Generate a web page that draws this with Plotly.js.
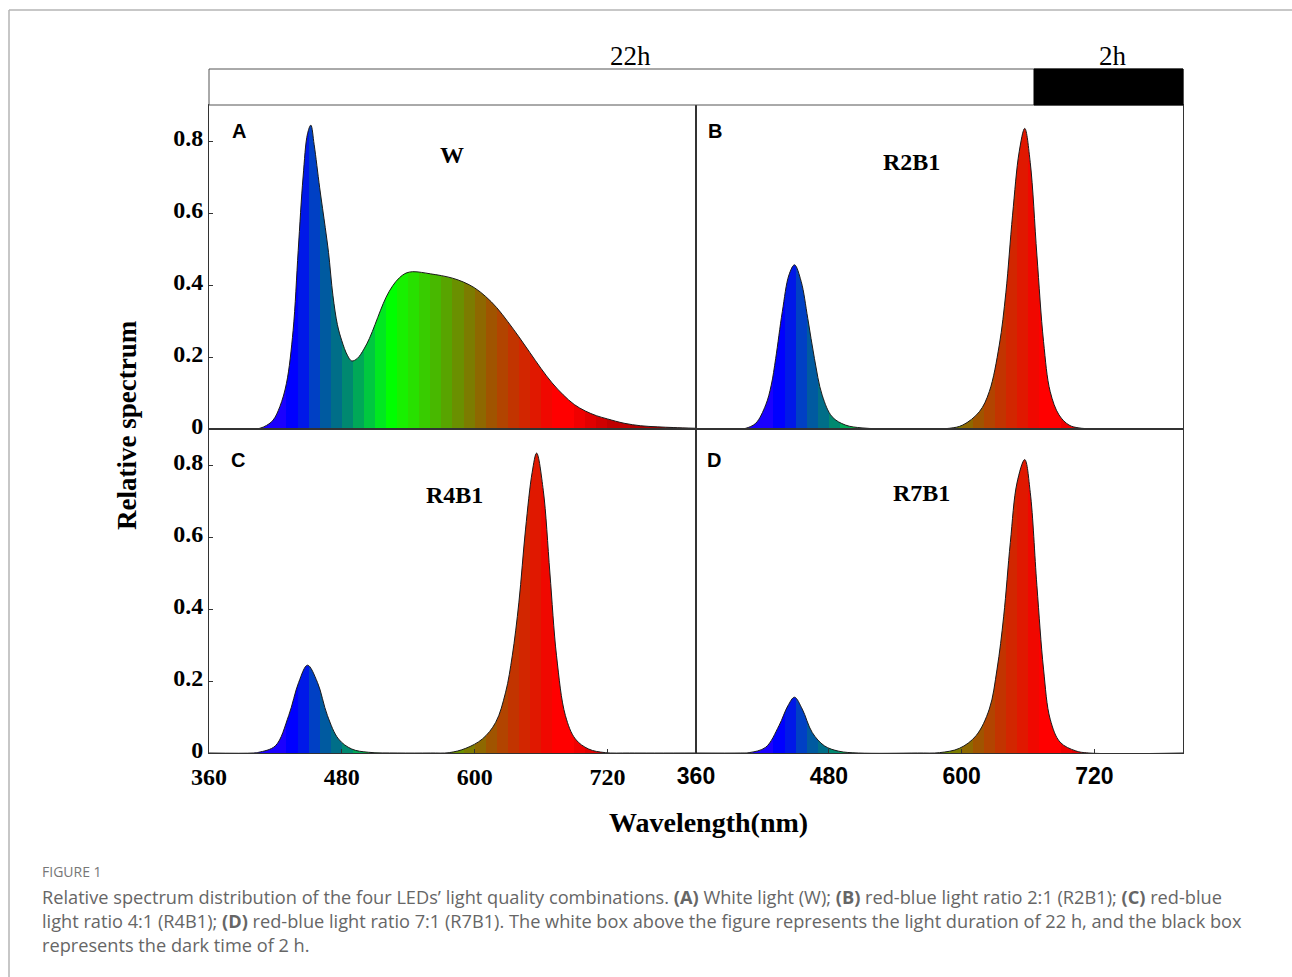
<!DOCTYPE html>
<html>
<head>
<meta charset="utf-8">
<script src="https://cdn.plot.ly/plotly-3.0.1.min.js"></script>
<style>html,body{margin:0;padding:0;background:#fff;}#chart{width:1292px;height:977px;}</style>
</head>
<body>
<div id="chart"></div>
<script>
// ---- Data ----
// Panel A: white light (W)
const wlA  = [360, 400, 406, 412, 418, 424, 430, 436, 440.6, 445, 449, 452, 455, 460, 465, 468, 472, 476, 480, 485, 489, 494, 500, 505, 510, 515, 520, 526, 532, 538, 544, 552, 560, 570, 580, 590, 600, 610, 620, 630, 640, 650, 660, 670, 680, 690, 700, 710, 720, 735, 750, 765, 780, 800];
const valA = [0, 0, 0.002, 0.01, 0.025, 0.062, 0.127, 0.274, 0.496, 0.70, 0.82, 0.844, 0.79, 0.67, 0.56, 0.49, 0.37, 0.29, 0.245, 0.205, 0.189, 0.196, 0.222, 0.252, 0.29, 0.33, 0.366, 0.398, 0.42, 0.433, 0.437, 0.435, 0.431, 0.426, 0.419, 0.408, 0.392, 0.368, 0.337, 0.298, 0.256, 0.212, 0.168, 0.128, 0.095, 0.068, 0.05, 0.037, 0.028, 0.016, 0.009, 0.006, 0.004, 0.002];
// Panel B: R2B1
const wlB  = [360, 400, 405, 414, 423, 428, 432, 438, 444, 449, 455, 461, 467, 474, 483, 495, 510, 540, 560, 589, 601, 616, 625, 634, 640, 646, 652, 657, 662, 668, 674, 680, 688, 697, 706, 730, 800];
const valB = [0, 0, 0.002, 0.016, 0.067, 0.122, 0.196, 0.326, 0.428, 0.456, 0.41, 0.307, 0.196, 0.094, 0.034, 0.011, 0.003, 0, 0, 0.002, 0.011, 0.048, 0.104, 0.233, 0.38, 0.594, 0.77, 0.835, 0.74, 0.483, 0.243, 0.104, 0.039, 0.011, 0.003, 0, 0];
// Panel C: R4B1
const wlC  = [360, 400, 405, 420, 432, 441, 449, 458, 467, 477, 489, 504, 530, 560, 577, 592, 607, 619, 628, 634, 640, 646, 652, 656, 662, 668, 674, 682, 691, 703, 718, 740, 800];
const valC = [0, 0, 0.002, 0.02, 0.104, 0.196, 0.244, 0.196, 0.104, 0.039, 0.011, 0.002, 0, 0, 0.001, 0.013, 0.039, 0.085, 0.169, 0.27, 0.419, 0.622, 0.78, 0.833, 0.73, 0.50, 0.27, 0.104, 0.039, 0.011, 0.001, 0, 0];
// Panel D: R7B1
const wlD  = [360, 400, 408, 423, 435, 443, 449, 456, 465, 476, 489, 507, 560, 580, 598, 613, 625, 632, 638, 644, 650, 657, 662, 668, 674, 680, 689, 703, 715, 800];
const valD = [0, 0, 0.001, 0.016, 0.076, 0.131, 0.155, 0.122, 0.057, 0.02, 0.005, 0, 0, 0.001, 0.013, 0.048, 0.122, 0.233, 0.38, 0.585, 0.75, 0.815, 0.724, 0.465, 0.233, 0.094, 0.03, 0.006, 0, 0];

const panelLetters = ['A', 'B', 'C', 'D'];
const panelNames   = ['W', 'R2B1', 'R4B1', 'R7B1'];
const photoLabels  = ['22h', '2h'];

const yTickVals   = [0, 0.2, 0.4, 0.6, 0.8];
const yTickText   = ['0', '0.2', '0.4', '0.6', '0.8'];
const xTickVals   = [360, 480, 600, 720];
const xTickText   = ['360', '480', '600', '720'];

// wavelength colour bands (nm edges) and their colours
const bandEdges  = [360, 430, 440, 450, 460, 470, 480, 490, 500, 510, 520, 530, 540, 550, 560, 570, 580, 590, 600, 610, 620, 630, 640, 650, 660, 670, 690, 700, 710, 720, 740, 800];
const bandColors = ['#1a00ff', '#0000ff', '#0018e8', '#0040c4', '#005aa0', '#006e88', '#008870', '#00a858', '#00c840', '#00e820', '#00ff00', '#18f000', '#28e000', '#38cc00', '#48b800', '#58a400', '#6a9000', '#7c7c00', '#8e6800', '#a05400', '#b24400', '#c23400', '#d22600', '#e01800', '#f00800', '#ff0000', '#f00000', '#e00000', '#d00000', '#c00000', '#b00000'];

// ---- Build ----
const WL0 = 360, WL1 = 800;
const scale = [];
for (let i = 0; i < bandColors.length; i++) {
  scale.push([(bandEdges[i] - WL0) / (WL1 - WL0), bandColors[i]]);
  scale.push([(bandEdges[i + 1] - WL0) / (WL1 - WL0), bandColors[i]]);
}

function spectrum(x, y, xa, ya) {
  return {
    type: 'scatter', mode: 'lines', x: x, y: y, xaxis: xa, yaxis: ya,
    fill: 'tozeroy',
    fillgradient: {type: 'horizontal', start: WL0, stop: WL1, colorscale: scale},
    line: {color: '#1a1a1a', width: 1, shape: 'spline', smoothing: 1},
    hoverinfo: 'skip', showlegend: false
  };
}

const data = [
  spectrum(wlA, valA, 'x', 'y'),
  spectrum(wlB, valB, 'x2', 'y2'),
  spectrum(wlC, valC, 'x3', 'y3'),
  spectrum(wlD, valD, 'x4', 'y4')
];

const W = 1292, H = 977;
const px = v => v / W;
const py = v => 1 - v / H;

const colL = [px(209), px(696)], colR = [px(696), px(1183)];
const rowT = [py(429), py(105)], rowB = [py(753), py(429)];

const serifB = {family: 'Liberation Serif, Times New Roman, serif', size: 24, weight: 'bold', color: '#000'};
const sansB  = {family: 'Liberation Sans, Arial, sans-serif', size: 23, weight: 'bold', color: '#000'};

function xa(domain, anchor, labels, font) {
  return {
    domain: domain, anchor: anchor, range: [WL0, WL1], fixedrange: true,
    showline: true, mirror: true, linecolor: '#333', linewidth: 1,
    showgrid: false, zeroline: false,
    tickvals: xTickVals, ticktext: xTickText,
    ticks: labels ? 'inside' : '', ticklen: 4, tickcolor: '#333',
    showticklabels: labels, tickfont: font || serifB, ticklabelstandoff: 2
  };
}
function ya(domain, anchor, labels) {
  return {
    domain: domain, anchor: anchor, range: [0, 0.9], fixedrange: true,
    showline: true, mirror: true, linecolor: '#333', linewidth: 1,
    showgrid: false, zeroline: false,
    tickvals: yTickVals, ticktext: yTickText,
    ticks: labels ? 'inside' : '', ticklen: 4, tickcolor: '#333',
    showticklabels: labels, tickfont: serifB, ticklabelshift: -3
  };
}

const ann = [];
const letterPos = [[239, 131], [715, 131], [238, 460], [714, 460]];
const namePos = [[452, 155], [911, 162], [454, 495], [921, 493]];
for (let i = 0; i < 4; i++) {
  ann.push({xref: 'paper', yref: 'paper', x: px(letterPos[i][0]), y: py(letterPos[i][1]), text: panelLetters[i],
    showarrow: false, xanchor: 'center', yanchor: 'middle',
    font: {family: 'Liberation Sans, Arial, sans-serif', size: 20, weight: 'bold', color: '#000'}});
  ann.push({xref: 'paper', yref: 'paper', x: px(namePos[i][0]), y: py(namePos[i][1]), text: panelNames[i],
    showarrow: false, xanchor: 'center', yanchor: 'middle',
    font: {family: 'Liberation Serif, Times New Roman, serif', size: 24, weight: 'bold', color: '#000'}});
}
ann.push({xref: 'paper', yref: 'paper', x: px(630), y: py(56), text: photoLabels[0], showarrow: false,
  xanchor: 'center', yanchor: 'middle', font: {family: 'Liberation Serif, Times New Roman, serif', size: 27, color: '#000'}});
ann.push({xref: 'paper', yref: 'paper', x: px(1113), y: py(56), text: photoLabels[1], showarrow: false,
  xanchor: 'center', yanchor: 'middle', font: {family: 'Liberation Serif, Times New Roman, serif', size: 27, color: '#000'}});
ann.push({xref: 'paper', yref: 'paper', x: px(127), y: py(425), text: 'Relative spectrum', textangle: -90, showarrow: false,
  xanchor: 'center', yanchor: 'middle', font: {family: 'Liberation Serif, Times New Roman, serif', size: 27, weight: 'bold', color: '#000'}});
ann.push({xref: 'paper', yref: 'paper', x: px(708), y: py(822), text: 'Wavelength(nm)', showarrow: false,
  xanchor: 'center', yanchor: 'middle', font: {family: 'Liberation Serif, Times New Roman, serif', size: 28, weight: 'bold', color: '#000'}});

// caption
const capFont = {family: 'Open Sans, Noto Sans, sans-serif', size: 18.2, color: '#666'};
ann.push({xref: 'paper', yref: 'paper', x: px(40), y: py(871), text: 'FIGURE 1', showarrow: false,
  xanchor: 'left', yanchor: 'middle', font: {family: 'Open Sans, Noto Sans, sans-serif', size: 14, color: '#777'}});
const capLines = [
  'Relative spectrum distribution of the four LEDs\u2019 light quality combinations. <b>(A)</b> White light (W); <b>(B)</b> red-blue light ratio 2:1 (R2B1); <b>(C)</b> red-blue',
  'light ratio 4:1 (R4B1); <b>(D)</b> red-blue light ratio 7:1 (R7B1). The white box above the figure represents the light duration of 22 h, and the black box',
  'represents the dark time of 2 h.'
];
const capY = [897, 921, 945];
for (let i = 0; i < capLines.length; i++) {
  ann.push({xref: 'paper', yref: 'paper', x: px(40), y: py(capY[i]), text: capLines[i], showarrow: false,
    xanchor: 'left', yanchor: 'middle', align: 'left', font: capFont});
}

const shapes = [
  // page frame
  {type: 'line', xref: 'paper', yref: 'paper', x0: px(9), x1: 1, y0: py(10), y1: py(10), line: {color: '#b4b4b4', width: 1.5}},
  {type: 'line', xref: 'paper', yref: 'paper', x0: px(9), x1: px(9), y0: py(10), y1: 0, line: {color: '#b4b4b4', width: 1.5}},
  // photoperiod box
  {type: 'rect', xref: 'paper', yref: 'paper', x0: px(209), x1: px(1183), y0: py(105), y1: py(69), fillcolor: '#fff', line: {color: '#555', width: 1}},
  {type: 'rect', xref: 'paper', yref: 'paper', x0: px(1034), x1: px(1183), y0: py(105), y1: py(69), fillcolor: '#000', line: {color: '#000', width: 1}}
];

const layout = {
  width: W, height: H,
  margin: {l: 0, r: 0, t: 0, b: 0},
  paper_bgcolor: '#fff', plot_bgcolor: 'rgba(0,0,0,0)',
  showlegend: false,
  xaxis: xa(colL, 'y', false),
  yaxis: ya(rowT, 'x', true),
  xaxis2: xa(colR, 'y2', false),
  yaxis2: ya(rowT, 'x2', false),
  xaxis3: xa(colL, 'y3', true, serifB),
  yaxis3: ya(rowB, 'x3', true),
  xaxis4: xa(colR, 'y4', true, sansB),
  yaxis4: ya(rowB, 'x4', false),
  annotations: ann,
  shapes: shapes
};

Plotly.newPlot('chart', data, layout, {staticPlot: true, displayModeBar: false});
</script>
</body>
</html>
